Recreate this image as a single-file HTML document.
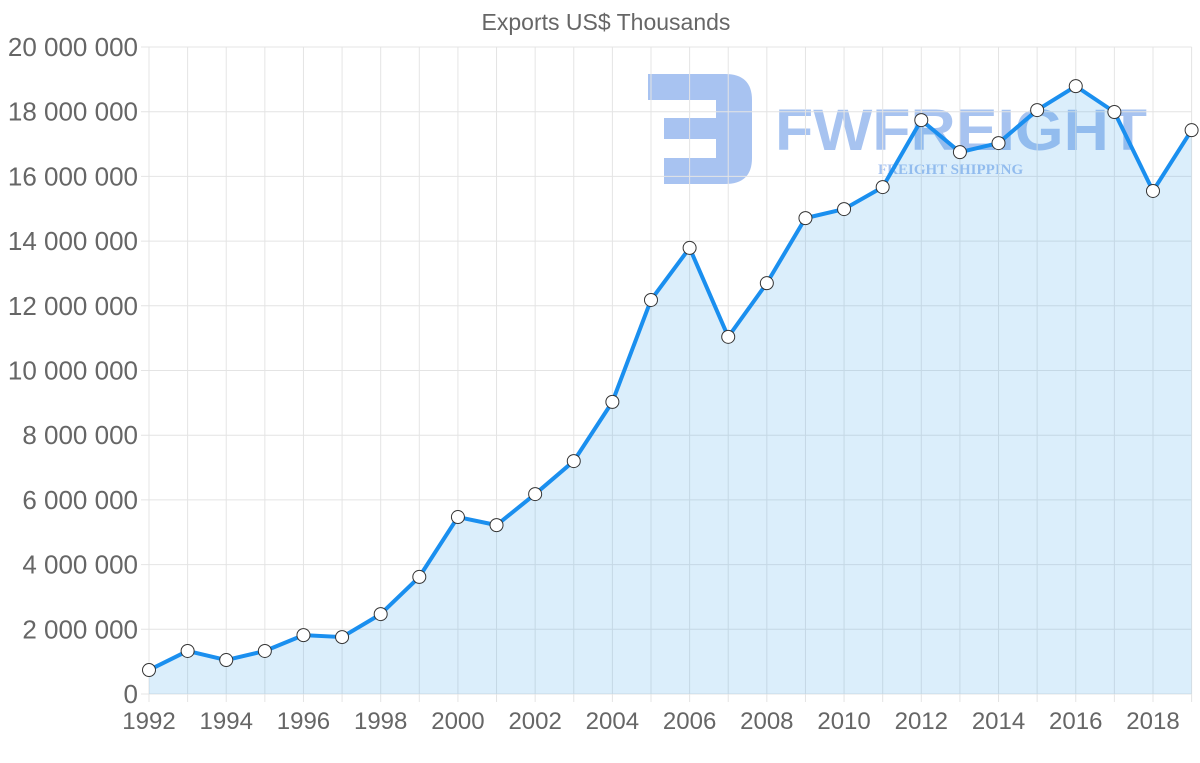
<!DOCTYPE html>
<html><head><meta charset="utf-8"><style>
html,body{margin:0;padding:0;background:#fff;}
svg{display:block;font-family:"Liberation Sans",sans-serif;}
</style></head><body>
<svg id="chart" width="1200" height="763">
<text x="606" y="30" text-anchor="middle" font-size="23" fill="#666">Exports US$ Thousands</text>
<g opacity="0.45">
<path d="M648 74 H725 Q752 74 752 100 V158 Q752 184 725 184 H664 V158 H716 V139 H664 V118 H716 V100 H648 Z" fill="#3e7be0"/>
<text x="775" y="150" font-size="58" font-weight="bold" fill="#3e7be0" textLength="372" lengthAdjust="spacingAndGlyphs">FWFREIGHT</text>
<text x="878" y="174" font-size="15" font-weight="bold" fill="#3e7be0" font-family="Liberation Serif,serif">FREIGHT SHIPPING</text>
</g>
<g id="grid"></g><g id="area"></g><g id="axes"></g>
</svg>
<script>
const years=[1992,1993,1994,1995,1996,1997,1998,1999,2000,2001,2002,2003,2004,2005,2006,2007,2008,2009,2010,2011,2012,2013,2014,2015,2016,2017,2018,2019];
const exportsM=[0.74,1.33,1.05,1.33,1.82,1.76,2.47,3.62,5.47,5.22,6.18,7.20,9.03,12.18,13.79,11.04,12.70,14.71,14.99,15.67,17.74,16.75,17.03,18.05,18.79,17.99,15.55,17.43];
const yTicks=[0,2,4,6,8,10,12,14,16,18,20];
const yTickLabels=["0","2 000 000","4 000 000","6 000 000","8 000 000","10 000 000","12 000 000","14 000 000","16 000 000","18 000 000","20 000 000"];
const NS="http://www.w3.org/2000/svg";
const X0=149,X1=1191.6,Y0=694,Y1=47;
const xs=y=>X0+(y-1992)*(X1-X0)/27;
const ys=v=>Y0-(v/20)*(Y0-Y1);
function mk(t,a,p){const e=document.createElementNS(NS,t);for(const k in a)e.setAttribute(k,a[k]);p.appendChild(e);return e;}
const grid=document.getElementById('grid'),area=document.getElementById('area'),axes=document.getElementById('axes');
yTicks.forEach((t,i)=>{
 const l=mk('line',{x1:X0-8,x2:X1,y1:ys(t),y2:ys(t),stroke:'#e4e4e4'},grid);
 
 
 const tx=mk('text',{x:138,y:ys(t)+9,'text-anchor':'end','font-size':26,fill:'#666'},axes);
 tx.textContent=yTickLabels[i];
 
 
});
years.forEach((y,i)=>{
 const l=mk('line',{x1:xs(y),x2:xs(y),y1:Y1,y2:Y0+8,stroke:'#e4e4e4'},grid);
 
 
 if(i%2===0){
  const tx=mk('text',{x:xs(y),y:729,'text-anchor':'middle','font-size':24,fill:'#666'},axes);
  tx.textContent=y;
  
  
 }
});
let d='';years.forEach((y,i)=>{d+=(i?'L':'M')+xs(y)+' '+ys(exportsM[i]);});
const a=mk('path',{d:d+'L'+xs(2019)+' '+Y0+'L'+X0+' '+Y0+'Z',fill:'rgba(54,162,235,0.18)'},area);


const ln=mk('path',{d:d,fill:'none',stroke:'#1a8fef','stroke-width':4,'stroke-linejoin':'round'},area);


years.forEach((y,i)=>{
 const c=mk('circle',{cx:xs(y),cy:ys(exportsM[i]),r:6.5,fill:'#fff',stroke:'#333','stroke-width':1},area);
 
 
});
</script>
</body></html>
